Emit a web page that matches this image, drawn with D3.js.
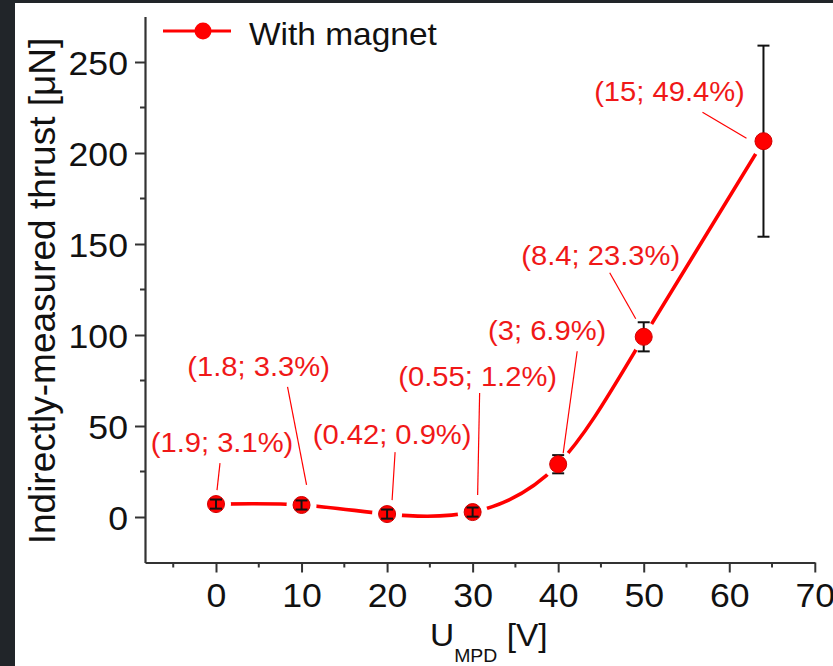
<!DOCTYPE html>
<html>
<head>
<meta charset="utf-8">
<script src="https://cdn.jsdelivr.net/npm/d3@7/dist/d3.min.js"></script>
<style>
  html, body { margin: 0; padding: 0; background: #212529; }
  svg { display: block; }
  text { font-family: "Liberation Sans", Arial, sans-serif; }
</style>
</head>
<body>
<svg id="chart" width="833" height="666"></svg>
<script>
// Discharge voltage (V) and indirectly-measured thrust (µN)
const voltage = [0, 10, 20, 30, 40, 50, 64];
const thrust = [7.1, 6.6, 1.6, 2.7, 29, 99, 206.5];
const thrustErr = [2.5, 2.5, 2.5, 2.5, 5, 8, 52.5];
// Annotation text for each point: (thrust-to-power; efficiency)
const pointNotes = ["(1.9; 3.1%)", "(1.8; 3.3%)", "(0.42; 0.9%)", "(0.55; 1.2%)",
                    "(3; 6.9%)", "(8.4; 23.3%)", "(15; 49.4%)"];
const xTicks = [0, 10, 20, 30, 40, 50, 60, 70];
const yTicks = [0, 50, 100, 150, 200, 250];
const seriesName = "With magnet";

// Label placement relative to its point: text centre/baseline and leader ends (px)
const noteLayout = [
  {tx: 6,   ty: -52,  x1: 4,   y1: -41,  x2: 1,   y2: -14},
  {tx: -43, ty: -129, x1: -14, y1: -118, x2: 5,   y2: -20},
  {tx: 5,   ty: -70,  x1: 8,   y1: -62,  x2: 5,   y2: -14},
  {tx: 5,   ty: -126, x1: 7,   y1: -119, x2: 5,   y2: -17},
  {tx: -11, ty: -124, x1: 19,  y1: -113, x2: 5,   y2: -11},
  {tx: -43, ty: -72,  x1: -34, y1: -64,  x2: -8,  y2: -18},
  {tx: -94, ty: -40,  x1: -61, y1: -29,  x2: -17, y2: -3}
];

const RED = "#ff0000";
const AXIS = "#333333";
const SX = 1.08;   // slightly widened lettering
const svg = d3.select("#chart");

// place a horizontal text at (px, py) with widened glyphs
function placeText(sel, px, py) {
  return sel.attr("x", null).attr("y", null).attr("dy", null)
    .attr("transform", (d, i, n) => {
      const a = typeof px === "function" ? px(d, i, n) : px;
      const b = typeof py === "function" ? py(d, i, n) : py;
      return `translate(${a},${b}) scale(${SX},1)`;
    });
}

// page frame: dark strip on the left and top, white figure area
svg.append("rect").attr("x", 0).attr("y", 0).attr("width", 833).attr("height", 666).attr("fill", "#212529");
svg.append("rect").attr("x", 15).attr("y", 3).attr("width", 818).attr("height", 663).attr("fill", "#ffffff");

const x = d3.scaleLinear().domain([-8.3, 70]).range([145, 814.8]);
const y = d3.scaleLinear().domain([-25, 275]).range([562.5, 16.5]);

const data = voltage.map((v, i) => ({v, t: thrust[i], e: thrustErr[i], note: pointNotes[i], lay: noteLayout[i]}));

// axes
const yMinor = d3.range(25, 275, 50);
const xMinor = d3.range(-5, 70, 10);

const gx = svg.append("g").attr("transform", `translate(0,${y(-25)})`);
gx.call(d3.axisBottom(x).tickValues(xTicks).tickSize(10).tickSizeOuter(0).tickFormat(d3.format("d")));
gx.append("g").selectAll("line").data(xMinor).join("line")
  .attr("x1", d => x(d)).attr("x2", d => x(d)).attr("y1", 0).attr("y2", 5);

const gy = svg.append("g").attr("transform", `translate(${x(-8.3)},0)`);
gy.call(d3.axisLeft(y).tickValues(yTicks).tickSize(10).tickSizeOuter(0));
gy.append("g").selectAll("line").data(yMinor).join("line")
  .attr("y1", d => y(d)).attr("y2", d => y(d)).attr("x1", 0).attr("x2", -5);

[gx, gy].forEach(g => {
  g.select(".domain").attr("stroke", AXIS).attr("stroke-width", 2.2);
  g.selectAll("line").attr("stroke", AXIS).attr("stroke-width", 2);
  g.selectAll("text").attr("fill", "#111").attr("font-size", 33);
});
placeText(gx.selectAll(".tick text"), 0, 44);
placeText(gy.selectAll(".tick text"), -17, 12);

// axis titles
svg.append("text")
  .attr("transform", `translate(55,291) rotate(-90)`)
  .attr("text-anchor", "middle").attr("font-size", 37).attr("fill", "#111")
  .text("Indirectly-measured thrust [\u03BCN]");

const xt = svg.append("text").attr("font-size", 31).attr("fill", "#111")
  .attr("transform", `translate(430,646) scale(${SX},1)`);
xt.append("tspan").text("U");
xt.append("tspan").attr("font-size", 18).attr("dy", 16).text("MPD");
xt.append("tspan").attr("dy", -16).text(" [V]");

// smooth connecting curve, broken around each marker
const line = d3.line().x(d => x(d.v)).y(d => y(d.t)).curve(d3.curveNatural);
svg.append("path").datum(data).attr("d", line)
  .attr("fill", "none").attr("stroke", RED).attr("stroke-width", 3.6);
svg.append("g").selectAll("circle").data(data).join("circle")
  .attr("cx", d => x(d.v)).attr("cy", d => y(d.t)).attr("r", 15).attr("fill", "#ffffff");

// error bars (behind markers where they reach beyond the symbol)
const R = 8.5;
function drawErr(g, rows) {
  const eb = g.selectAll("g").data(rows).join("g").attr("stroke", "#111").attr("stroke-width", 2);
  eb.append("line").attr("x1", d => x(d.v)).attr("x2", d => x(d.v))
    .attr("y1", d => y(d.t + d.e)).attr("y2", d => y(d.t - d.e));
  eb.append("line").attr("x1", d => x(d.v) - 6).attr("x2", d => x(d.v) + 6)
    .attr("y1", d => y(d.t + d.e)).attr("y2", d => y(d.t + d.e));
  eb.append("line").attr("x1", d => x(d.v) - 6).attr("x2", d => x(d.v) + 6)
    .attr("y1", d => y(d.t - d.e)).attr("y2", d => y(d.t - d.e));
}
const inside = d => Math.abs(y(d.t + d.e) - y(d.t)) < R;
drawErr(svg.append("g"), data.filter(d => !inside(d)));

svg.append("g").selectAll("circle").data(data).join("circle")
  .attr("cx", d => x(d.v)).attr("cy", d => y(d.t)).attr("r", R)
  .attr("fill", RED).attr("stroke", "#d00000").attr("stroke-width", 1);

drawErr(svg.append("g"), data.filter(inside));

// point annotations with leader lines
const notes = svg.append("g");
notes.selectAll("line").data(data).join("line")
  .attr("x1", d => x(d.v) + d.lay.x1).attr("y1", d => y(d.t) + d.lay.y1)
  .attr("x2", d => x(d.v) + d.lay.x2).attr("y2", d => y(d.t) + d.lay.y2)
  .attr("stroke", RED).attr("stroke-width", 1.2);
placeText(
  notes.selectAll("text").data(data).join("text")
    .attr("text-anchor", "middle").attr("font-size", 27).attr("fill", "#f01818")
    .text(d => d.note),
  d => x(d.v) + d.lay.tx, d => y(d.t) + d.lay.ty);

// legend
const lg = svg.append("g");
lg.append("line").attr("x1", 163).attr("x2", 231).attr("y1", 31).attr("y2", 31)
  .attr("stroke", RED).attr("stroke-width", 3.2);
lg.append("circle").attr("cx", 203).attr("cy", 31).attr("r", 8.5).attr("fill", RED);
lg.append("text").attr("font-size", 31).attr("fill", "#111")
  .attr("transform", `translate(249,45) scale(${SX},1)`).text(seriesName);
</script>
</body>
</html>
